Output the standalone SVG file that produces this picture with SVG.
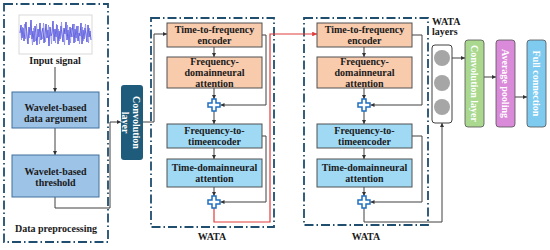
<svg xmlns="http://www.w3.org/2000/svg" width="550" height="250" viewBox="0 0 550 250">
<defs>
<style>
text{font-family:"Liberation Serif","Times New Roman",serif;font-weight:bold;font-size:10px;fill:#1a1a1a}
.c{text-anchor:middle}
.w{fill:#ffffff}
.dash{fill:none;stroke:#1f4e6e;stroke-width:1.8;stroke-dasharray:9 3 1.5 3}
.ln{fill:none;stroke:#404040;stroke-width:1}
.red{fill:none;stroke:#e03c3c;stroke-width:1.2}
.pk{fill:#f8cbad;stroke:#505050;stroke-width:1}
.bl{fill:#9fd9f4;stroke:#505050;stroke-width:1}
.wb{fill:#9dc3e6;stroke:#41719c;stroke-width:1}
.plus{fill:#ffffff;stroke:#1f6fc0;stroke-width:1.5}
</style>
<marker id="ah" viewBox="0 0 6 6" refX="6" refY="3" markerWidth="4" markerHeight="4" orient="auto"><path d="M0,0 L6,3 L0,6 z" fill="#333"/></marker>
<marker id="ahr" viewBox="0 0 6 6" refX="6" refY="3" markerWidth="4" markerHeight="4" orient="auto"><path d="M0,0 L6,3 L0,6 z" fill="#e03c3c"/></marker>
<path id="plusShape" d="M-2,-6 h4 v4 h4 v4 h-4 v4 h-4 v-4 h-4 v-4 h4 z"/>
</defs>

<!-- containers -->
<g id="preprocessing">
<rect class="dash" x="4" y="4" width="104" height="238"/>
<text class="c" x="56" y="232">Data preprocessing</text>
</g>
<g id="wata1">
<rect class="dash" x="151" y="18" width="123" height="209"/>
<text class="c" x="212" y="240">WATA</text>
</g>
<g id="wata2">
<rect class="dash" x="304" y="18" width="124" height="207"/>
<text class="c" x="366" y="240">WATA</text>
</g>

<!-- connectors -->
<g id="connectors">
<path class="ln" d="M55,67 V92" marker-end="url(#ah)"/>
<path class="ln" d="M55,128 V155" marker-end="url(#ah)"/>
<path class="ln" d="M55,197 V208 H110 V122 H121" marker-end="url(#ah)"/>
<path class="ln" d="M143,122 H154 V34 H167" marker-end="url(#ah)"/>
<path class="ln" d="M214,47 V57" marker-end="url(#ah)"/>
<path class="ln" d="M214,88 V99" marker-end="url(#ah)"/>
<path class="ln" d="M214,111 V124" marker-end="url(#ah)"/>
<path class="ln" d="M214,148 V159" marker-end="url(#ah)"/>
<path class="ln" d="M214,187 V196" marker-end="url(#ah)"/>
<path class="ln" d="M262,35 H266 V105 H220.5" marker-end="url(#ah)"/>
<path class="ln" d="M262,136 H266 V202 H220.5" marker-end="url(#ah)"/>
<path class="red" d="M214,208 V222 H270 V34 H317" marker-end="url(#ahr)"/>
<path class="ln" d="M364,47 V57" marker-end="url(#ah)"/>
<path class="ln" d="M364,88 V99" marker-end="url(#ah)"/>
<path class="ln" d="M364,111 V124" marker-end="url(#ah)"/>
<path class="ln" d="M364,148 V159" marker-end="url(#ah)"/>
<path class="ln" d="M364,187 V196" marker-end="url(#ah)"/>
<path class="ln" d="M412,35 H422 V105 H370.5" marker-end="url(#ah)"/>
<path class="ln" d="M412,136 H422 V202 H370.5" marker-end="url(#ah)"/>
<path class="ln" d="M364,208 V222 H442 V123" marker-end="url(#ah)"/>
<path class="ln" d="M452,58 H465" marker-end="url(#ah)"/>
<path class="ln" d="M484,77 H496" marker-end="url(#ah)"/>
<path class="ln" d="M515,97 H527" marker-end="url(#ah)"/>
</g>

<!-- preprocessing nodes -->
<g id="input-signal">
<rect x="19" y="15" width="73" height="39" fill="#ffffff" stroke="#d0d0d0" stroke-width="0.8"/>
<polyline fill="none" stroke="#3b3bd6" stroke-width="0.8" points="20,33 21,25 22,38 23,28 24,41 25,30 26,22 27,36 28,44 29,27 30,35 31,20 32,39 33,31 34,42 35,26 36,34 37,45 38,29 39,37 40,23 41,40 42,32 43,28 44,43 45,35 46,24 47,38 48,30 49,46 50,27 51,36 52,33 53,21 54,41 55,29 56,37 57,25 58,44 59,31 60,39 61,26 62,35 63,42 64,28 65,34 66,22 67,40 68,30 69,45 70,27 71,37 72,32 73,24 74,43 75,29 76,38 77,26 78,41 79,33 80,36 81,23 82,44 83,30 84,39 85,28 86,35 87,42 88,25 89,37 90,31 91,40"/>
<polyline fill="none" stroke="#7a7ae8" stroke-width="0.6" points="20.5,30 21.5,40 22.5,27 23.5,36 24.5,24 25.5,39 26.5,31 27.5,43 28.5,29 29.5,38 30.5,26 31.5,35 32.5,45 33.5,28 34.5,33 35.5,41 36.5,24 37.5,37 38.5,30 39.5,44 40.5,27 41.5,35 42.5,39 43.5,23 44.5,32 45.5,42 46.5,28 47.5,36 48.5,25 49.5,40 50.5,31 51.5,44 52.5,26 53.5,35 54.5,30 55.5,43 56.5,24 57.5,38 58.5,29 59.5,41 60.5,33 61.5,22 62.5,39 63.5,30 64.5,45 65.5,27 66.5,36 67.5,25 68.5,40 69.5,32 70.5,43 71.5,28 72.5,37 73.5,31 74.5,24 75.5,42 76.5,29 77.5,39 78.5,26 79.5,44 80.5,30 81.5,37 82.5,27 83.5,41 84.5,33 85.5,24 86.5,39 87.5,30 88.5,43 89.5,28 90.5,35"/>
<text class="c" x="55" y="64">Input signal</text>
</g>
<g id="wavelet-augment">
<rect class="wb" x="12" y="92" width="87" height="36"/>
<text class="c" x="55.5" y="110.5">Wavelet-based</text>
<text class="c" x="55.5" y="121.5">data argument</text>
</g>
<g id="wavelet-threshold">
<rect class="wb" x="12" y="155" width="87" height="42"/>
<text class="c" x="55.5" y="175">Wavelet-based</text>
<text class="c" x="55.5" y="186">threshold</text>
</g>

<g id="conv-layer-1">
<rect x="121" y="85" width="22" height="75" rx="3" fill="#1f5b7a"/>
<text class="c w" transform="translate(133,122.5) rotate(90)"><tspan x="0" y="0">Convolution</tspan><tspan x="0" y="11">layer</tspan></text>
</g>

<!-- WATA 1 nodes -->
<g id="wata1-t2f">
<rect class="pk" x="167" y="23" width="95" height="24"/>
<text class="c" x="214.5" y="32.5">Time-to-frequency</text>
<text class="c" x="214.5" y="43.5">encoder</text>
</g>
<g id="wata1-fdna">
<rect class="pk" x="167" y="57" width="95" height="31"/>
<text class="c" x="214.5" y="64.5">Frequency-</text>
<text class="c" x="214.5" y="75.5">domainneural</text>
<text class="c" x="214.5" y="86.5">attention</text>
</g>
<g id="wata1-plus1"><use href="#plusShape" class="plus" x="214" y="105"/></g>
<g id="wata1-f2t">
<rect class="bl" x="167" y="124" width="95" height="24"/>
<text class="c" x="214.5" y="134">Frequency-to-</text>
<text class="c" x="214.5" y="145">timeencoder</text>
</g>
<g id="wata1-tdna">
<rect class="bl" x="167" y="159" width="95" height="28"/>
<text class="c" x="214.5" y="170.5">Time-domainneural</text>
<text class="c" x="214.5" y="181.5">attention</text>
</g>
<g id="wata1-plus2"><use href="#plusShape" class="plus" x="214" y="202"/></g>

<!-- WATA 2 nodes -->
<g id="wata2-t2f">
<rect class="pk" x="317" y="23" width="95" height="24"/>
<text class="c" x="364.5" y="32.5">Time-to-frequency</text>
<text class="c" x="364.5" y="43.5">encoder</text>
</g>
<g id="wata2-fdna">
<rect class="pk" x="317" y="57" width="95" height="31"/>
<text class="c" x="364.5" y="64.5">Frequency-</text>
<text class="c" x="364.5" y="75.5">domainneural</text>
<text class="c" x="364.5" y="86.5">attention</text>
</g>
<g id="wata2-plus1"><use href="#plusShape" class="plus" x="364" y="105"/></g>
<g id="wata2-f2t">
<rect class="bl" x="317" y="124" width="95" height="24"/>
<text class="c" x="364.5" y="134">Frequency-to-</text>
<text class="c" x="364.5" y="145">timeencoder</text>
</g>
<g id="wata2-tdna">
<rect class="bl" x="317" y="159" width="95" height="28"/>
<text class="c" x="364.5" y="170.5">Time-domainneural</text>
<text class="c" x="364.5" y="181.5">attention</text>
</g>
<g id="wata2-plus2"><use href="#plusShape" class="plus" x="364" y="202"/></g>

<!-- output stage -->
<g id="wata-layers">
<text x="432" y="25">WATA</text>
<text x="432" y="35">layers</text>
<rect x="432" y="45" width="20" height="78" rx="3" fill="#ffffff" stroke="#404040" stroke-width="1"/>
<circle cx="442" cy="58" r="8" fill="#a6a6a6"/>
<circle cx="442" cy="83" r="8" fill="#a6a6a6"/>
<circle cx="442" cy="107" r="8" fill="#a6a6a6"/>
</g>
<g id="conv-layer-2">
<rect x="465" y="40" width="19" height="87" rx="3" fill="#a9d88e" stroke="#505050" stroke-width="0.8"/>
<text class="c w" transform="translate(471,83.5) rotate(90)">Convolution layer</text>
</g>
<g id="avg-pooling">
<rect x="496" y="40" width="19" height="87" rx="3" fill="#d98ad8" stroke="#505050" stroke-width="0.8"/>
<text class="c w" transform="translate(502,83.5) rotate(90)">Average pooling</text>
</g>
<g id="full-connection">
<rect x="527" y="40" width="19" height="87" rx="3" fill="#7fcaef" stroke="#505050" stroke-width="0.8"/>
<text class="c w" transform="translate(533,83.5) rotate(90)">Full connection</text>
</g>
</svg>
